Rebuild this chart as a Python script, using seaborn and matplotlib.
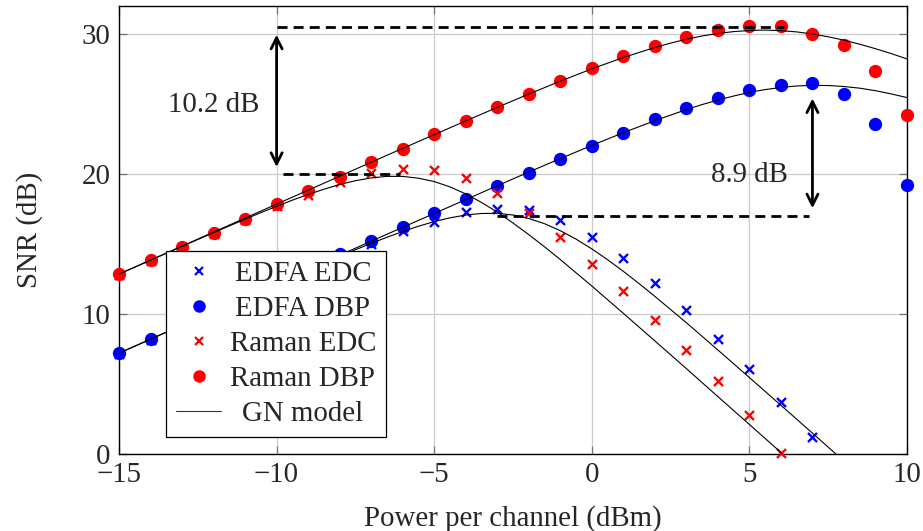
import matplotlib
matplotlib.use("Agg")
import matplotlib.pyplot as plt
import pandas as pd
import seaborn as sns
from matplotlib.lines import Line2D
from matplotlib.transforms import Affine2D

# ---- measured SNR (dB) versus launch power per channel (dBm) ----
edfa_edc_p = list(range(-15, 8))
edfa_edc = [7.15, 8.15, 9.15, 10.15, 11.15, 12.1, 13.1, 14.1, 15.0, 15.9, 16.6,
            17.3, 17.5, 17.4, 16.7, 15.5, 14.0, 12.25, 10.3, 8.25, 6.05, 3.75, 1.2]

edfa_dbp_p = list(range(-15, 11))
edfa_dbp = [7.2, 8.2, 9.2, 10.2, 11.2, 12.2, 13.2, 14.3, 15.2, 16.2, 17.2, 18.2,
            19.15, 20.1, 21.1, 22.0, 22.95, 23.9, 24.7, 25.45, 26.0, 26.35, 26.5,
            25.7, 23.6, 19.25]

raman_edc_p = list(range(-15, 7))
raman_edc = [12.8, 13.8, 14.8, 15.75, 16.7, 17.7, 18.5, 19.4, 20.1, 20.35, 20.3,
             19.7, 18.65, 17.25, 15.5, 13.6, 11.65, 9.55, 7.45, 5.2, 2.8, 0.1]

raman_dbp_p = list(range(-15, 11))
raman_dbp = [12.85, 13.85, 14.8, 15.8, 16.8, 17.85, 18.8, 19.8, 20.85, 21.8, 22.85,
             23.8, 24.8, 25.7, 26.65, 27.6, 28.45, 29.15, 29.8, 30.3, 30.55, 30.6,
             30.0, 29.25, 27.35, 24.25]

# ---- GN model predictions (denser sampling around the optima) ----
gn_edfa_edc_p = [-15, -14, -13, -12, -11, -10, -9, -8, -7.5, -7, -6.5, -6, -5.5, -5,
                 -4.5, -4, -3.5, -3, -2.5, -2, -1.5, -1, -0.5, 0, 0.5, 1, 1.5, 2, 3,
                 4, 5, 6, 7, 8]
gn_edfa_edc = [7.2, 8.2, 9.2, 10.19, 11.19, 12.18, 13.16, 14.12, 14.59, 15.04, 15.48,
               15.89, 16.27, 16.6, 16.87, 17.07, 17.18, 17.19, 17.07, 16.82, 16.45,
               15.95, 15.35, 14.65, 13.88, 13.05, 12.17, 11.26, 9.38, 7.43, 5.46,
               3.48, 1.49, -0.51]

gn_raman_edc_p = [-15, -14, -13, -12, -11, -10.5, -10, -9.5, -9, -8.5, -8, -7.5, -7,
                  -6.5, -6, -5.5, -5, -4.5, -4, -3.5, -3, -2.5, -2, -1.5, -1, 0, 1,
                  2, 3, 4, 5, 6, 7]
gn_raman_edc = [12.85, 13.84, 14.83, 15.81, 16.77, 17.24, 17.69, 18.13, 18.54, 18.91,
                19.25, 19.52, 19.72, 19.83, 19.83, 19.70, 19.46, 19.08, 18.58, 17.97,
                17.28, 16.50, 15.67, 14.80, 13.89, 12.0, 10.05, 8.08, 6.1, 4.1, 2.11,
                0.11, -1.89]

gn_edfa_dbp_p = [-15, -14, -13, -12, -11, -10, -9, -8, -7, -6, -5, -4, -3, -2, -1, 0,
                 1, 2, 3, 3.5, 4, 4.5, 5, 5.5, 6, 6.5, 7, 7.5, 8, 8.5, 9, 9.5, 10]
gn_edfa_dbp = [7.2, 8.2, 9.2, 10.2, 11.2, 12.2, 13.2, 14.2, 15.2, 16.19, 17.18, 18.17,
               19.16, 20.14, 21.1, 22.04, 22.95, 23.81, 24.6, 24.96, 25.28, 25.57,
               25.83, 26.03, 26.18, 26.29, 26.33, 26.32, 26.25, 26.13, 25.95, 25.72,
               25.46]

gn_raman_dbp_p = [-15, -14, -13, -12, -11, -10, -9, -8, -7, -6, -5, -4, -3, -2, -1, 0,
                  1, 2, 2.5, 3, 3.5, 4, 4.5, 5, 5.5, 6, 6.5, 7, 7.5, 8, 8.5, 9, 9.5,
                  10]
gn_raman_dbp = [12.85, 13.85, 14.85, 15.85, 16.85, 17.85, 18.84, 19.84, 20.84, 21.83,
                22.81, 23.79, 24.76, 25.71, 26.63, 27.51, 28.32, 29.04, 29.35, 29.63,
                29.86, 30.04, 30.17, 30.25, 30.28, 30.24, 30.15, 30.0, 29.80, 29.56,
                29.27, 28.95, 28.60, 28.22]

series_labels = ["EDFA EDC", "EDFA DBP", "Raman EDC", "Raman DBP", "GN model"]
x_ticks = [-15, -10, -5, 0, 5, 10]
y_ticks = [0, 10, 20, 30]

# gain annotations: (x, y_low, y_high, label, label_x, label_y)
gain_left = (-10.0, 20.5, 29.95, "10.2 dB", -12.0, 24.95)
gain_right = (7.0, 17.55, 25.4, "8.9 dB", 5.0, 19.9)
# dashed reference levels: (x_start, x_end, level)
ref_levels = [(-10.0, 6.1, 30.5), (-9.8, -6.1, 20.0), (-3.0, 6.9, 17.0)]

FS = 20.8

sns.set_style("ticks")
plt.rcParams["font.family"] = ["Liberation Serif", "DejaVu Serif"]
plt.rcParams["axes.unicode_minus"] = True

fig = plt.figure(figsize=(9.23, 5.31), dpi=100)
ax = fig.add_axes([119 / 923, 77 / 531, 788 / 923, 448 / 531])

BLUE = "#0000ff"
RED = "#ff0000"
DOT_S = 92
CROSS_S = 42

meas = [
    (edfa_edc_p, edfa_edc, "x", BLUE, CROSS_S),
    (edfa_dbp_p, edfa_dbp, "o", BLUE, DOT_S),
    (raman_edc_p, raman_edc, "x", RED, CROSS_S),
    (raman_dbp_p, raman_dbp, "o", RED, DOT_S),
]
for i, (px, py, mk, col, s) in enumerate(meas):
    df = pd.DataFrame({"p": px, "snr": py})
    lw = 1.7 if mk == "x" else 0
    sns.scatterplot(data=df, x="p", y="snr", marker=mk, color=col, s=s,
                    linewidth=lw, ax=ax, zorder=3 + i * 0.1, clip_on=False)

for px, py in [(gn_edfa_edc_p, gn_edfa_edc), (gn_edfa_dbp_p, gn_edfa_dbp),
               (gn_raman_edc_p, gn_raman_edc), (gn_raman_dbp_p, gn_raman_dbp)]:
    df = pd.DataFrame({"p": px, "snr": py})
    sns.lineplot(data=df, x="p", y="snr", color="black", linewidth=0.8, ax=ax,
                 zorder=4)

for x0, x1, lvl in ref_levels:
    ax.plot([x0, x1], [lvl, lvl], color="black", lw=2.0,
            linestyle=(0, (3.6, 2.2)), zorder=5)

for xa, ylo, yhi, txt, tx, ty in (gain_left, gain_right):
    ax.annotate("", xy=(xa, yhi), xytext=(xa, ylo),
                arrowprops=dict(arrowstyle="<->", lw=2.0, color="black",
                                mutation_scale=20, shrinkA=0, shrinkB=0),
                zorder=5)
    ax.text(tx, ty, txt, fontsize=FS, ha="center", va="center", zorder=5)

ax.set_xlim(-15, 10)
ax.set_ylim(0, 32)
ax.set_xticks(x_ticks)
ax.set_yticks(y_ticks)
ax.set_xticklabels([f"{v}".replace("-", "\u2212") for v in x_ticks])
ax.set_yticklabels([str(v) for v in y_ticks])
ax.grid(True, color="#cccccc", linewidth=0.9)
ax.set_axisbelow(True)
ax.tick_params(direction="in", length=6, width=0.9, color="0.45",
               top=True, right=True, labelsize=FS, pad=6)
for sp in ax.spines.values():
    sp.set_color("black")
    sp.set_linewidth(1.0)
    sp.set_visible(True)
ax.set_xlabel("Power per channel (dBm)", fontsize=FS, labelpad=12)
ax.set_ylabel("SNR (dB)", fontsize=FS, labelpad=28)

handles = [
    Line2D([], [], marker="x", color=BLUE, linestyle="none", markersize=6,
           markeredgewidth=1.6),
    Line2D([], [], marker="o", color=BLUE, linestyle="none", markersize=9,
           markeredgewidth=0),
    Line2D([], [], marker="x", color=RED, linestyle="none", markersize=6,
           markeredgewidth=1.6),
    Line2D([], [], marker="o", color=RED, linestyle="none", markersize=9,
           markeredgewidth=0),
    Line2D([], [], color="#333333", linewidth=0.8),
]
leg = ax.legend(handles, series_labels, loc="lower left",
                bbox_to_anchor=(0.0597, 0.038), fontsize=FS, frameon=True,
                fancybox=False, framealpha=1.0, edgecolor="black",
                handlelength=1.55, handletextpad=0.3, labelspacing=0.3,
                borderpad=0.35, borderaxespad=0)
leg.get_frame().set_linewidth(0.9)
leg.set_zorder(10)

# centre each legend label within the label column
fig.canvas.draw()
renderer = fig.canvas.get_renderer()
label_widths = [t.get_window_extent(renderer).width for t in leg.get_texts()]
widest = max(label_widths)
for t, w in zip(leg.get_texts(), label_widths):
    t.set_transform(t.get_transform() + Affine2D().translate((widest - w) / 2, 0))

fig.savefig("out.png", dpi=100)
